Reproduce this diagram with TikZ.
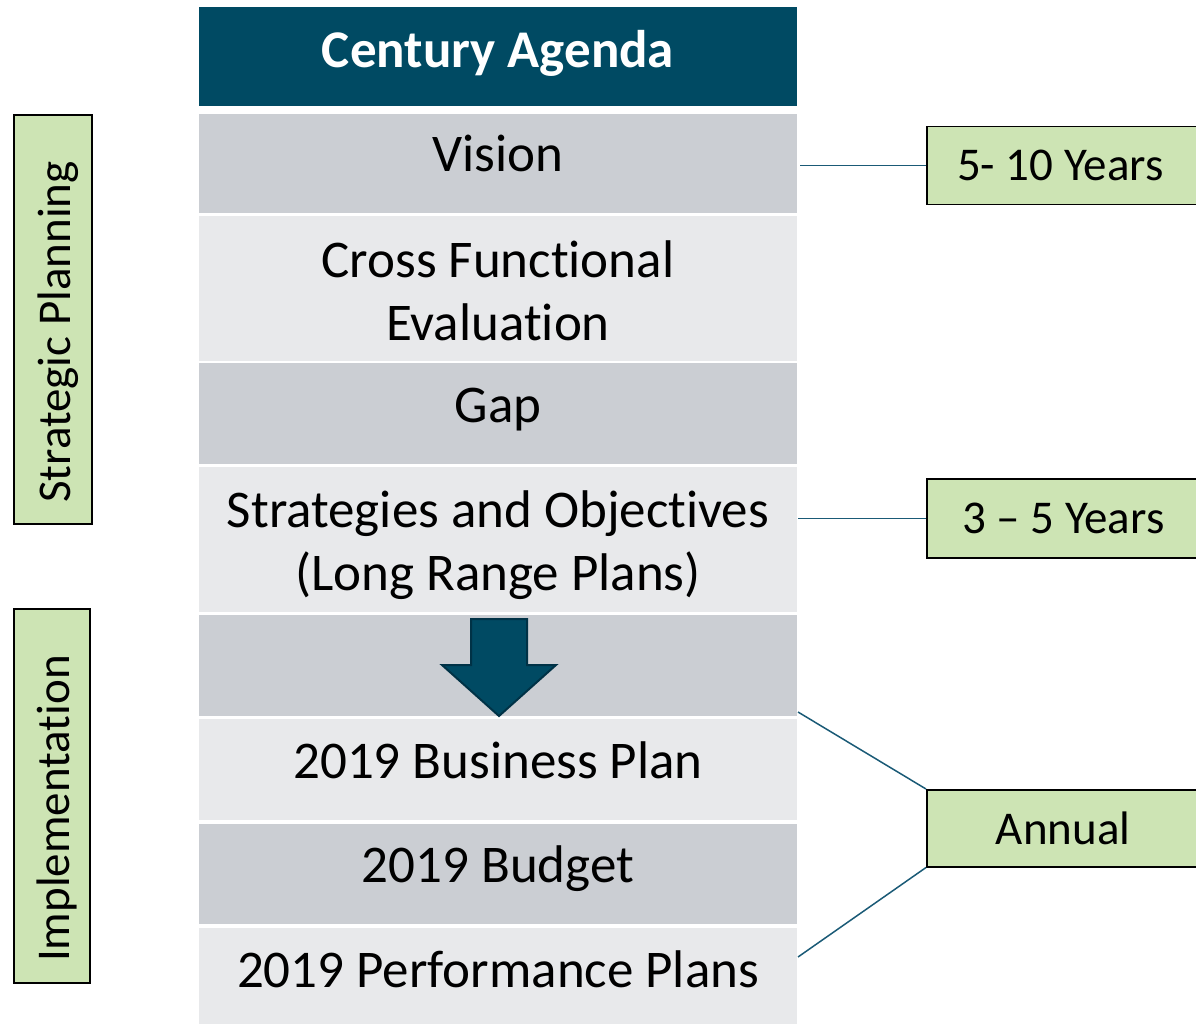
\documentclass[tikz,border=0pt]{standalone}
\usepackage{fontspec}
\setmainfont{Carlito}[Ligatures=CommonOff]
\definecolor{cteal}{RGB}{0,74,99}
\definecolor{ctealdark}{RGB}{0,50,70}
\definecolor{cline}{RGB}{26,90,118}
\definecolor{cdark}{RGB}{203,206,211}
\definecolor{clight}{RGB}{232,233,235}
\definecolor{cgreen}{RGB}{205,228,180}
\tikzset{
  bar/.style={inner sep=0pt, minimum width=598pt, draw=none},
  bigtxt/.style={inner sep=0pt, anchor=base, font=\fontsize{53}{63}\selectfont},
  tagbox/.style={draw=black, line width=1.5pt, fill=cgreen, inner sep=0pt, anchor=north west,
    font=\fontsize{47}{56}\selectfont},
  sidebox/.style={draw=black, line width=1.5pt, fill=cgreen, inner sep=0pt},
  sidetxt/.style={inner sep=0pt, anchor=base, rotate=90, font=\fontsize{47}{56}\selectfont},
  link/.style={draw=cline, line width=1.5pt}
}
\begin{document}
\begin{tikzpicture}[x=1pt,y=-1pt]
\useasboundingbox (0,0) rectangle (1196,1024);
% column bars
\node[bar, fill=cteal,  minimum height=99pt]  (title) at (498,56.5) {};
\node[bar, fill=cdark,  minimum height=99pt]  (vision) at (498,163.5) {};
\node[bar, fill=clight, minimum height=145pt] (cross) at (498,288.5) {};
\node[bar, fill=cdark,  minimum height=101pt] (gap) at (498,413.5) {};
\node[bar, fill=clight, minimum height=145pt] (strat) at (498,539.5) {};
\node[bar, fill=cdark,  minimum height=101pt] (arrowrow) at (498,665.5) {};
\node[bar, fill=clight, minimum height=101pt] (business) at (498,769.5) {};
\node[bar, fill=cdark,  minimum height=100pt] (budget) at (498,874) {};
\node[bar, fill=clight, minimum height=98pt]  (perf) at (498,977) {};
% texts
\node[bigtxt, text=white, font=\fontsize{53}{63}\selectfont\bfseries] (ttitle) at (498,68) {Century Agenda};
\node[bigtxt] (tvision) at (498,172) {Vision};
\node[bigtxt] (tcross1) at (498,277) {Cross Functional};
\node[bigtxt] (tcross2) at (498,340) {Evaluation};
\node[bigtxt] (tgap) at (498,422) {Gap};
\node[bigtxt] (tstrat1) at (498,527) {Strategies and Objectives};
\node[bigtxt] (tstrat2) at (498,590) {(Long Range Plans)};
\node[bigtxt] (tbusiness) at (498,778) {2019 Business Plan};
\node[bigtxt] (tbudget) at (498,882) {2019 Budget};
\node[bigtxt] (tperf) at (498,987) {2019 Performance Plans};
% down arrow
\filldraw[fill=cteal, draw=ctealdark, line width=2pt, line join=miter]
  (471,619) -- (527,619) -- (527,665) -- (556,665) -- (499,716) -- (442,665) -- (471,665) -- cycle;
% right tags
\node[tagbox, minimum width=273pt, minimum height=78pt] (y510) at (926,126) {\hspace*{-6pt}5- 10 Years};
\node[tagbox, minimum width=273pt, minimum height=79pt] (y35) at (926,478) {3 – 5 Years};
\node[tagbox, minimum width=273pt, minimum height=77pt] (annual) at (926,789) {Annual};
% left side boxes
\node[sidebox, minimum width=78pt, minimum height=409pt] (sp) at (53,319.5) {};
\node[sidetxt] (tsp) at (70,332) {Strategic Planning};
\node[sidebox, minimum width=76pt, minimum height=374pt] (impl) at (52,796) {};
\node[sidetxt] (timpl) at (69,808.5) {Implementation};
% connectors
\coordinate (cv) at (800,0);
\coordinate (cs) at (798,0);
\coordinate (cb) at (798,712);
\coordinate (cp) at (798,957);
\draw[link] (cv |- y510.west) -- (y510.west);
\draw[link] (cs |- y35.west) -- (y35.west);
\draw[link] (cb) -- (annual.north west);
\draw[link] (cp) -- (annual.south west);
\end{tikzpicture}
\end{document}
